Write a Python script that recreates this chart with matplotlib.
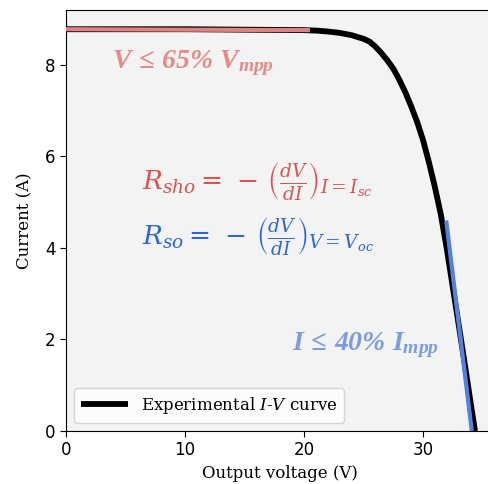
import numpy as np
import matplotlib
matplotlib.use("Agg")
import matplotlib.pyplot as plt

# I-V curve
volt = [0, 5, 10, 15, 20, 21, 22, 23, 24, 25, 25.5, 26, 26.5, 27, 27.5, 28, 28.5,
        29, 29.5, 30, 30.5, 31, 31.5, 32, 32.5, 33, 33.5, 34, 34.37]
curr = [8.78, 8.78, 8.78, 8.77, 8.76, 8.75, 8.73, 8.70, 8.65, 8.57, 8.51, 8.40, 8.26,
        8.10, 7.92, 7.68, 7.41, 7.10, 6.76, 6.36, 5.87, 5.33, 4.73, 3.98, 3.15, 2.32,
        1.48, 0.62, 0.0]

# region V <= 65% Vmpp
v_low = [0, 20.5]
i_low = [8.78, 8.76]

# region I <= 40% Impp (linear fit)
v_high = [31.95, 34.1]
i_high = [4.6, 0.0]

x_ticks = [0, 10, 20, 30]
y_ticks = [0, 2, 4, 6, 8]

plt.rcParams["mathtext.fontset"] = "custom"
plt.rcParams["mathtext.it"] = "Liberation Serif:italic:bold"
plt.rcParams["mathtext.rm"] = "Liberation Serif:italic:bold"
plt.rcParams["mathtext.bf"] = "Liberation Serif:italic:bold"

fig = plt.figure(figsize=(4.88, 4.84), dpi=100)
ax = fig.add_axes([66 / 488, 53 / 484, 36 * 11.9 / 488, 421 / 484])
ax.set_facecolor("#f3f3f3")

ax.plot(volt, curr, color="black", lw=4.2, solid_capstyle="butt",
        label=r"Experimental $I$-$V$ curve", zorder=2)
ax.plot(v_low, i_low, color="#e08080", lw=3.0, solid_capstyle="butt", zorder=3)
ax.plot(v_high, i_high, color="#5580dc", lw=3.0, solid_capstyle="butt", zorder=3)

ax.text(3.85, 8.04, r"$V\,\leq\,65\%\ V_{mpp}$", color="#e58a85", fontsize=20,
        math_fontfamily="custom", va="center")
ax.text(19.0, 1.88, r"$I\,\leq\,40\%\ I_{mpp}$", color="#7b9be3", fontsize=20,
        math_fontfamily="custom", va="center")

ax.text(6.4, 5.47, r"$R_{sho} =\,-\,\left(\frac{dV}{dI}\right)_{I=I_{sc}}$",
        color="#d9534f", fontsize=19, math_fontfamily="dejavuserif", va="center")
ax.text(6.4, 4.27, r"$R_{so} =\,-\,\left(\frac{dV}{dI}\right)_{V=V_{oc}}$",
        color="#2f66d6", fontsize=19, math_fontfamily="dejavuserif", va="center")

ax.set_xlim(0, 36)
ax.set_ylim(0, 9.2)
ax.set_xticks(x_ticks)
ax.set_yticks(y_ticks)
ax.tick_params(labelsize=12, length=4)
ax.set_xlabel("Output voltage (V)", family="DejaVu Serif", fontsize=12, labelpad=4)
ax.set_ylabel("Current (A)", family="DejaVu Serif", fontsize=12, labelpad=8)

leg = ax.legend(loc="lower left", prop={"family": "DejaVu Serif", "size": 12},
                handlelength=2.8, borderaxespad=0.5)
for t in leg.get_texts():
    t.set_math_fontfamily("dejavuserif")

fig.savefig("out.png", dpi=100)
